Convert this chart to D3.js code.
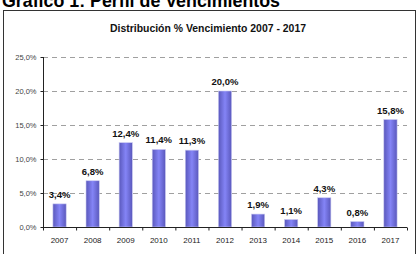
<!DOCTYPE html>
<html>
<head>
<meta charset="utf-8">
<script src="https://cdn.jsdelivr.net/npm/d3@7"></script>
<style>
  body { margin: 0; background: #fff; }
  svg { display: block; }
</style>
</head>
<body>
<div id="chart"></div>
<script>
var years = ["2007", "2008", "2009", "2010", "2011", "2012", "2013", "2014", "2015", "2016", "2017"];
var shares = [3.4, 6.8, 12.4, 11.4, 11.3, 20.0, 1.9, 1.1, 4.3, 0.8, 15.8];
var yTicks = [0, 5, 10, 15, 20, 25];
var heading = "Gráfico 1: Perfil de Vencimientos";
var chartTitle = "Distribución % Vencimiento 2007 - 2017";

var W = 418, H = 254;
var margin = {top: 57, right: 11, bottom: 27, left: 43}
    , width = W - margin.left - margin.right
    , height = H - margin.top - margin.bottom;

var comma = function(v) { return d3.format(".1f")(v).replace(".", ","); };

var svg = d3.select("#chart").append("svg")
    .attr("width", W)
    .attr("height", H);

var defs = svg.append("defs");
var grad = defs.append("linearGradient")
    .attr("id", "barGrad")
    .attr("x1", "0%").attr("x2", "100%")
    .attr("y1", "0%").attr("y2", "0%");
grad.append("stop").attr("offset", "0%").attr("stop-color", "#5a58bc");
grad.append("stop").attr("offset", "50%").attr("stop-color", "#8484f6");
grad.append("stop").attr("offset", "100%").attr("stop-color", "#5a58bc");

// page heading, cut off by the top edge
svg.append("text")
    .attr("x", 2)
    .attr("y", 7)
    .attr("font-family", "Liberation Sans, Arial, sans-serif")
    .attr("font-weight", "bold")
    .attr("font-size", 18)
    .attr("textLength", 278)
    .attr("lengthAdjust", "spacingAndGlyphs")
    .text(heading);

// frame
svg.append("rect")
    .attr("x", 3.5)
    .attr("y", 10.5)
    .attr("width", 412)
    .attr("height", 260)
    .attr("fill", "none")
    .attr("stroke", "#333")
    .attr("stroke-width", 1);

svg.append("text")
    .attr("x", 208)
    .attr("y", 32)
    .attr("text-anchor", "middle")
    .attr("font-family", "Liberation Sans Narrow, Arial Narrow, Liberation Sans, sans-serif")
    .attr("font-weight", "bold")
    .attr("font-size", 11)
    .attr("textLength", 196)
    .attr("lengthAdjust", "spacingAndGlyphs")
    .attr("fill", "#111")
    .text(chartTitle);

var g = svg.append("g")
    .attr("transform", "translate(" + margin.left + "," + margin.top + ")");

var x = d3.scaleBand()
    .domain(years)
    .range([0, width])
    .paddingInner(0.6)
    .paddingOuter(0.3);

var y = d3.scaleLinear()
    .domain([0, 25])
    .range([height, 0]);

// gridlines
g.append("g")
    .selectAll("line")
    .data(yTicks.filter(function(d) { return d > 0; }))
    .enter().append("line")
    .attr("x1", 0)
    .attr("x2", width)
    .attr("y1", function(d) { return Math.round(y(d)) + 0.5; })
    .attr("y2", function(d) { return Math.round(y(d)) + 0.5; })
    .attr("stroke", "#a0a0a0")
    .attr("stroke-dasharray", "5,4");

// bars
g.append("g")
    .selectAll("rect")
    .data(shares)
    .enter().append("rect")
    .attr("x", function(d, i) { return x(years[i]); })
    .attr("y", function(d) { return y(d); })
    .attr("width", x.bandwidth())
    .attr("height", function(d) { return height - y(d); })
    .attr("fill", "url(#barGrad)")
    .attr("stroke", "#c8c8f0")
    .attr("stroke-width", 0.6);

// value labels
g.append("g")
    .selectAll("text")
    .data(shares)
    .enter().append("text")
    .attr("x", function(d, i) { return x(years[i]) + x.bandwidth() / 2; })
    .attr("y", function(d) { return y(d) - 6; })
    .attr("text-anchor", "middle")
    .attr("font-family", "Liberation Sans Narrow, Arial Narrow, Liberation Sans, sans-serif")
    .attr("font-weight", "bold")
    .attr("font-size", 9.5)
    .attr("fill", "#111")
    .text(function(d) { return comma(d) + "%"; });

var xAxis = d3.axisBottom(d3.scaleLinear().domain([0, years.length]).range([0, width]))
    .tickValues(d3.range(0, years.length + 1))
    .tickSize(3)
    .tickFormat("");

var xg = g.append("g")
    .attr("transform", "translate(0," + (height + 0.5) + ")")
    .call(xAxis);
xg.select(".domain").attr("stroke", "#222").attr("d", "M0,0H" + width);
xg.selectAll(".tick line").attr("stroke", "#222");

g.append("g")
    .selectAll("text")
    .data(years)
    .enter().append("text")
    .attr("x", function(d) { return x(d) + x.bandwidth() / 2; })
    .attr("y", height + 16)
    .attr("text-anchor", "middle")
    .attr("font-family", "Liberation Sans Narrow, Arial Narrow, Liberation Sans, sans-serif")
    .attr("font-size", 8)
    .attr("fill", "#222")
    .text(function(d) { return d; });

var yAxis = d3.axisLeft(y)
    .tickValues(yTicks)
    .tickSize(3)
    .tickPadding(4)
    .tickFormat(function(d) { return comma(d) + "%"; });

var yg = g.append("g")
    .attr("transform", "translate(0.5,0)")
    .call(yAxis);
yg.select(".domain").attr("stroke", "#222").attr("d", "M0," + height + "V0");
yg.selectAll(".tick line").attr("stroke", "#222");
yg.selectAll(".tick text")
    .attr("font-family", "Liberation Sans Narrow, Arial Narrow, Liberation Sans, sans-serif")
    .attr("font-size", 7.5)
    .attr("fill", "#444");
</script>
</body>
</html>
